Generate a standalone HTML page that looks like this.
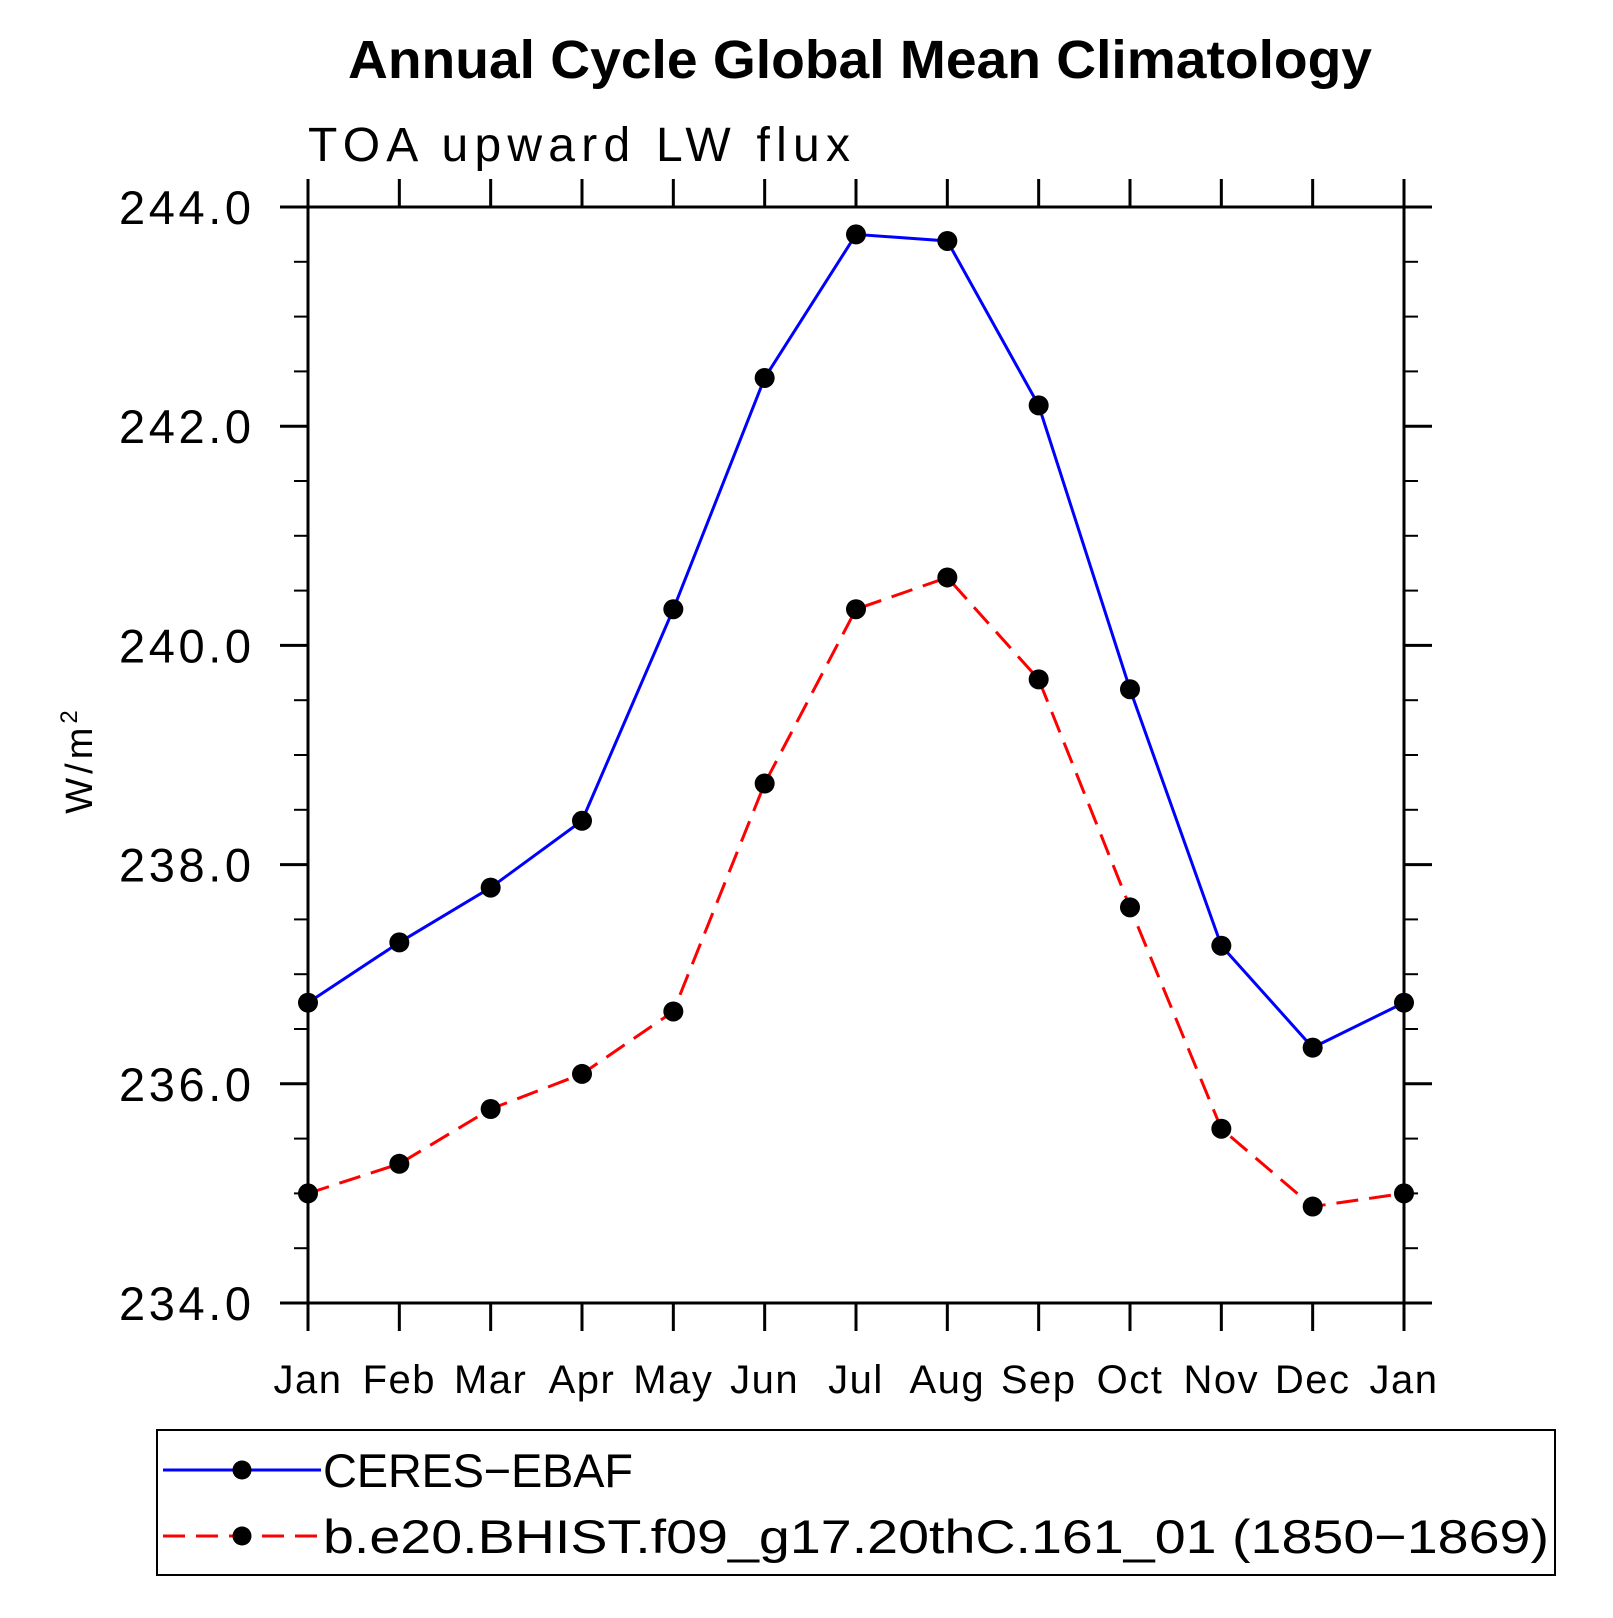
<!DOCTYPE html>
<html><head><meta charset="utf-8"><style>
html,body{margin:0;padding:0;background:#fff;}
svg text{font-family:"Liberation Sans",sans-serif;}
</style></head><body>
<svg id="chart" width="1613" height="1613" viewBox="0 0 1613 1613" xmlns="http://www.w3.org/2000/svg">
<text x="860" y="78" font-size="54" font-weight="bold" text-anchor="middle" textLength="1024" lengthAdjust="spacingAndGlyphs">Annual Cycle Global Mean Climatology</text>
<text x="308" y="161" font-size="48" textLength="542" lengthAdjust="spacing">TOA upward LW flux</text>
<text transform="translate(92,760) rotate(-90)" font-size="38" text-anchor="middle" letter-spacing="4">W/m<tspan font-size="24" dy="-15">2</tspan></text>
<rect x="308" y="207" width="1096" height="1096" fill="none" stroke="#000" stroke-width="3"/>
<g id="axes"></g>
<g id="series"></g>
<g>
<rect x="157" y="1430" width="1398" height="145" fill="none" stroke="#000" stroke-width="2"/>
<line x1="163" y1="1470" x2="321" y2="1470" stroke="#0000ff" stroke-width="3"/>
<circle cx="242" cy="1470" r="9.5" fill="#000"/>
<text x="323" y="1487" font-size="47" textLength="310" lengthAdjust="spacing">CERES−EBAF</text>
<line x1="163" y1="1536" x2="321" y2="1536" stroke="#ff0000" stroke-width="3" stroke-dasharray="22,11"/>
<circle cx="242" cy="1536" r="9.5" fill="#000"/>
<text x="323" y="1553" font-size="47" textLength="1226" lengthAdjust="spacingAndGlyphs">b.e20.BHIST.f09_g17.20thC.161_01 (1850−1869)</text>
</g>
</svg>
<script>
const months = ["Jan","Feb","Mar","Apr","May","Jun","Jul","Aug","Sep","Oct","Nov","Dec","Jan"];
const ceres = [236.74,237.29,237.79,238.40,240.33,242.44,243.75,243.69,242.19,239.60,237.26,236.33,236.74];
const model = [235.00,235.27,235.77,236.09,236.66,238.74,240.33,240.62,239.69,237.61,235.59,234.88,235.00];
const yTicks = [234,236,238,240,242,244];
const yTickLabels = ["234.0","236.0","238.0","240.0","242.0","244.0"];
const yMin = 234, yMax = 244;
const L=308,R=1404,T=207,B=1303;
const NS="http://www.w3.org/2000/svg";
function xs(i){return L+(R-L)*i/(months.length-1);}
function ys(v){return B-(B-T)*(v-yMin)/(yMax-yMin);}
function mk(tag,attrs,parent){const e=document.createElementNS(NS,tag);for(const k in attrs)e.setAttribute(k,attrs[k]);parent.appendChild(e);return e;}
const axes=document.getElementById('axes');
months.forEach((m,i)=>{
  const x=xs(i);
  let t=mk('line',{x1:x,y1:B,x2:x,y2:B+28,stroke:'#000','stroke-width':3},axes);
  
  
  t=mk('line',{x1:x,y1:T,x2:x,y2:T-28,stroke:'#000','stroke-width':3},axes);
  
  
  const tx=mk('text',{x:x,y:1393,'font-size':40,'text-anchor':'middle','letter-spacing':1.5},axes);
  tx.textContent=m;
  
  
});
for(let v=yMin; v<=yMax+1e-9; v+=0.5){
  const y=ys(v); const major=Math.abs(v-Math.round(v/2)*2)<1e-6;
  const len=major?28:14;
  let t=mk('line',{x1:L-len,y1:y,x2:L,y2:y,stroke:'#000','stroke-width':major?3:2},axes);
  
  
  t=mk('line',{x1:R,y1:y,x2:R+len,y2:y,stroke:'#000','stroke-width':major?3:2},axes);
  
  
}
yTicks.forEach((v,i)=>{
  const tx=mk('text',{x:119,y:ys(v)+17,'font-size':47,textLength:132,lengthAdjust:'spacing'},axes);
  tx.textContent=yTickLabels[i];
  
  
});
const series=document.getElementById('series');
function draw(vals,color,dash,name){
  const pts=vals.map((v,i)=>xs(i)+','+ys(v)).join(' ');
  const pl=mk('polyline',{points:pts,fill:'none',stroke:color,'stroke-width':3},series);
  if(dash)pl.setAttribute('stroke-dasharray',dash);
  
  
  vals.forEach((v,i)=>{
    const c=mk('circle',{cx:xs(i),cy:ys(v),r:10,fill:'#000'},series);
    
    
  });
}
draw(ceres,'#0000ff',null,'ceres');
draw(model,'#ff0000','22,11','model');
</script>
</body></html>
